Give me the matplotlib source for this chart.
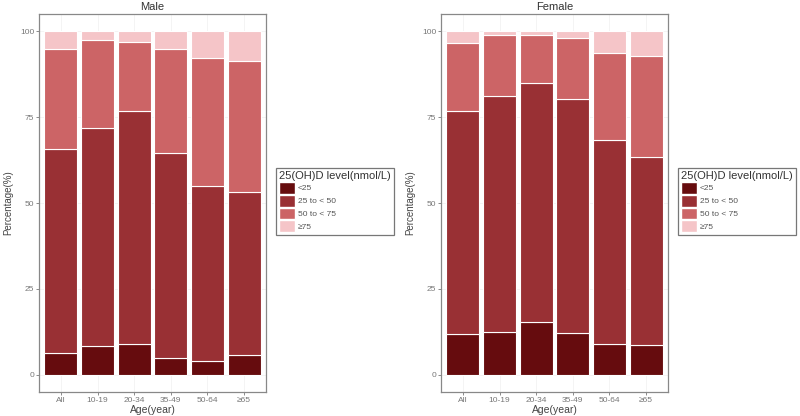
import numpy as np
import matplotlib
matplotlib.use("Agg")
import matplotlib.pyplot as plt
from matplotlib.patches import Patch

plt.rcParams['font.family'] = ['Liberation Sans', 'DejaVu Sans']

ages = ['All', '10-19', '20-34', '35-49', '50-64', '≥65']
levels = ['<25', '25 to < 50', '50 to < 75', '≥75']
colors = ['#660c0e', '#993034', '#cc6466', '#f5c5c8']

# percentage in each level, per age group
male_lt25 = [6.3, 8.4, 9.1, 5.0, 4.1, 5.9]
male_25_50 = [59.3, 63.5, 67.7, 59.5, 50.9, 47.2]
male_50_75 = [29.2, 25.4, 20.1, 30.3, 37.1, 38.1]
male_ge75 = [5.2, 2.7, 3.1, 5.2, 7.9, 8.8]

female_lt25 = [11.8, 12.5, 15.4, 12.3, 8.9, 8.7]
female_25_50 = [65.0, 68.5, 69.6, 67.9, 59.4, 54.8]
female_50_75 = [19.9, 17.8, 13.8, 17.8, 25.4, 29.3]
female_ge75 = [3.3, 1.2, 1.2, 2.0, 6.3, 7.2]

panels = [
    ('Male', [male_lt25, male_25_50, male_50_75, male_ge75], 39, 276),
    ('Female', [female_lt25, female_25_50, female_50_75, female_ge75], 441, 678),
]

W, H = 800, 416
fig = plt.figure(figsize=(W / 100, H / 100), dpi=100)

for title, series, left_px, leg_px in panels:
    ax = fig.add_axes([left_px / W, 1 - 392 / H, 227 / W, 378 / H])
    x = np.arange(len(ages))
    bottom = np.zeros(len(ages))
    for vals, c in zip(series, colors):
        ax.bar(x, vals, width=0.9, bottom=bottom, color=c,
               edgecolor='white', linewidth=0.8, zorder=2)
        bottom += np.array(vals)
    ax.set_xlim(-0.6, len(ages) - 0.4)
    ax.set_ylim(-5, 105)
    ax.set_yticks([0, 25, 50, 75, 100])
    ax.set_xticks(x)
    ax.set_xticklabels(ages)
    ax.tick_params(labelsize=6, colors='#777777', length=2, width=0.6, pad=1.5)
    ax.grid(True, color='#f2f2f2', linewidth=0.6, zorder=0)
    for s in ax.spines.values():
        s.set_color('#888888')
        s.set_linewidth(0.9)
    ax.set_title(title, fontsize=8, color='#333333', pad=3)
    ax.set_xlabel('Age(year)', fontsize=7.5, color='#444444', labelpad=0.5)
    ax.set_ylabel('Percentage(%)', fontsize=7, color='#444444', labelpad=5)

    handles = [Patch(facecolor=c, edgecolor='white') for c in colors]
    leg = fig.legend(handles, levels, title='25(OH)D level(nmol/L)',
                     loc='upper left', bbox_to_anchor=(leg_px / W, 1 - 168 / H),
                     fontsize=6, title_fontsize=8, frameon=True, fancybox=False,
                     handlelength=1.9, handleheight=1.8, handletextpad=0.4,
                     labelspacing=0.12, borderpad=0.35, borderaxespad=0,
                     alignment='left')
    leg.get_frame().set_edgecolor('#555555')
    leg.get_frame().set_linewidth(0.9)
    for t in leg.get_texts():
        t.set_color('#555555')
    leg.get_title().set_color('#333333')

fig.savefig('out.png', dpi=100)
